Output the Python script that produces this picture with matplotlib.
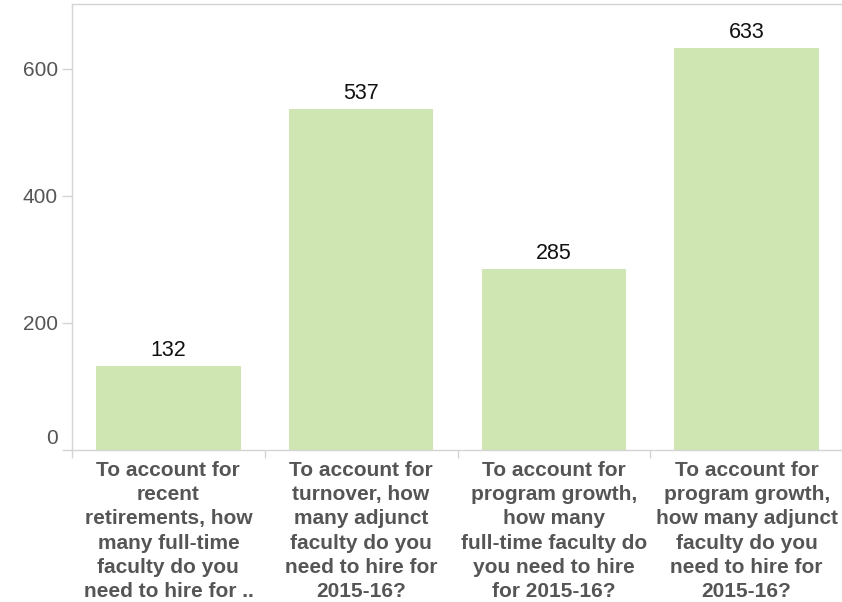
import matplotlib
matplotlib.use("Agg")
import matplotlib.pyplot as plt
from matplotlib.ticker import FixedLocator
from matplotlib.transforms import ScaledTranslation

categories = [
    "To account for\nrecent\nretirements, how\nmany full-time\nfaculty do you\nneed to hire for ..",
    "To account for\nturnover, how\nmany adjunct\nfaculty do you\nneed to hire for\n2015-16?",
    "To account for\nprogram growth,\nhow many\nfull-time faculty do\nyou need to hire\nfor 2015-16?",
    "To account for\nprogram growth,\nhow many adjunct\nfaculty do you\nneed to hire for\n2015-16?",
]
values = [132, 537, 285, 633]
yticks = [0, 200, 400, 600]

plt.rcParams['font.family'] = ['Liberation Sans', 'DejaVu Sans']

W, H = 842, 602
fig = plt.figure(figsize=(W / 100, H / 100), dpi=100)
left, right, top, bottom = 72, 843, 4, 450
ax = fig.add_axes([left / W, 1 - bottom / H, (right - left) / W, (bottom - top) / H])

bar_color = "#cfe5b2"
grey = "#d4d4d4"
x = list(range(len(values)))
ax.bar(x, values, width=0.75, color=bar_color, zorder=2)
for xi, v in zip(x, values):
    ax.annotate(str(v), (xi, v), xytext=(0, 3.5), textcoords="offset points",
                ha="center", va="bottom", fontsize=15.5, color="#111111")

ax.set_xlim(-0.5, len(values) - 0.5)
ax.set_ylim(0, 702)
ax.set_yticks(yticks)
ax.set_yticklabels([str(t) for t in yticks])
ax.set_xticks(x)
ax.set_xticklabels(categories, fontsize=15, fontweight="bold", color="#555555",
                   linespacing=1.345)
ax.xaxis.set_minor_locator(FixedLocator([i - 0.5 for i in range(len(values))]))
ax.tick_params(axis="x", which="major", length=0, pad=8)
ax.tick_params(axis="x", which="minor", length=6, width=1, color=grey)
ax.tick_params(axis="y", length=7, width=1, color=grey, labelsize=15,
               labelcolor="#555555", pad=3)

# lift the zero label above the baseline, as in the reference
zero_lbl = ax.get_yticklabels()[0]
zero_lbl.set_transform(zero_lbl.get_transform() + ScaledTranslation(0, 14 / 100, fig.dpi_scale_trans))

for s in ["left", "top", "bottom"]:
    ax.spines[s].set_color(grey)
    ax.spines[s].set_linewidth(1)
ax.spines["right"].set_visible(False)

fig.savefig("out.png", dpi=100)
